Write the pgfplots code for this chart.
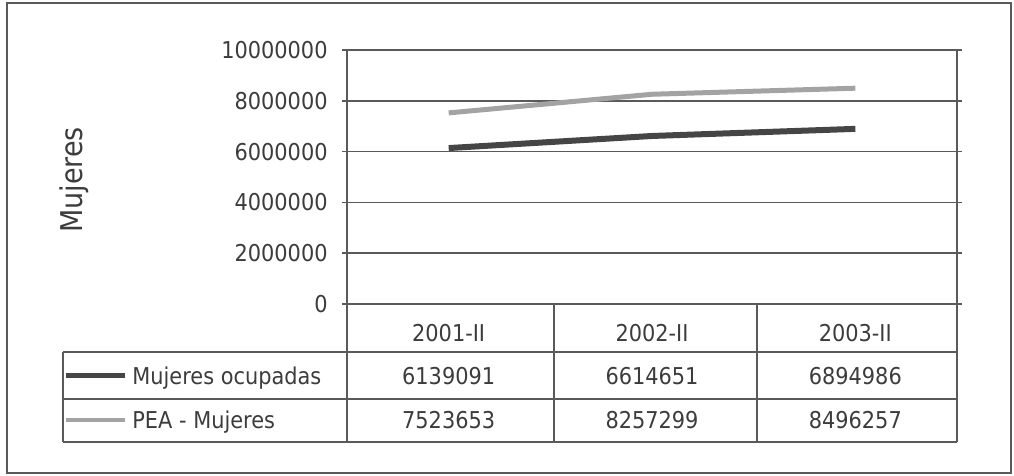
\documentclass[border=0pt]{standalone}
\usepackage{pgfplots}
\pgfplotsset{compat=1.18}
\usepackage{fontspec}
\setmainfont{DejaVu Sans}[FakeStretch=0.9]
\definecolor{txt}{HTML}{3C3C3C}
\definecolor{gridc}{HTML}{5A5A5A}
\definecolor{occ}{HTML}{454545}
\definecolor{pea}{HTML}{A3A3A3}
\newcommand{\fs}{\fontsize{11.6}{14}\selectfont}
\begin{document}
\begin{tikzpicture}[x=1pt,y=1pt]
\useasboundingbox (0,0) rectangle (507,238);
\draw[gridc, line width=0.75pt] (3.5,1.5) rectangle (505.5,236.5);
\begin{axis}[
  at={(173.5pt,86pt)}, anchor=south west,
  scale only axis, width=305pt, height=127pt,
  xmin=0.5, xmax=3.5, ymin=0, ymax=10000000,
  clip=false,
  xtick={1,2,3}, xticklabels={2001-II,2002-II,2003-II},
  xtick style={draw=none},
  xticklabel style={font=\fs, text=txt, anchor=center, yshift=-12pt},
  ytick={0,2000000,4000000,6000000,8000000,10000000},
  scaled y ticks=false,
  /pgf/number format/.cd, fixed, precision=0, 1000 sep={}, assume math mode=true,
  /pgfplots/.cd,
  yticklabel style={font=\fs, text=txt, anchor=east, inner sep=0pt, xshift=-7pt},
  ymajorgrids,
  grid style={gridc, line width=0.75pt},
  axis line style={gridc, line width=0.75pt},
  ytick style={gridc, line width=0.75pt},
  major tick length=5pt, tick align=center,
]
\addplot[occ, line width=3pt] coordinates {(1,6139091) (2,6614651) (3,6894986)};
\addplot[pea, line width=2.5pt] coordinates {(1,7523653) (2,8257299) (3,8496257)};
% table values
\node[font=\fs, text=txt, anchor=base] at (axis cs:1,0) [yshift=-40.2pt] {6139091};
\node[font=\fs, text=txt, anchor=base] at (axis cs:2,0) [yshift=-40.2pt] {6614651};
\node[font=\fs, text=txt, anchor=base] at (axis cs:3,0) [yshift=-40.2pt] {6894986};
\node[font=\fs, text=txt, anchor=base] at (axis cs:1,0) [yshift=-62.2pt] {7523653};
\node[font=\fs, text=txt, anchor=base] at (axis cs:2,0) [yshift=-62.2pt] {8257299};
\node[font=\fs, text=txt, anchor=base] at (axis cs:3,0) [yshift=-62.2pt] {8496257};
\end{axis}
% table grid
\begin{scope}[gridc, line width=0.75pt]
\draw (173.5,86) -- (173.5,17);
\draw (277,86) -- (277,17);
\draw (378.5,86) -- (378.5,17);
\draw (478.5,86) -- (478.5,17);
\draw (31.5,62) -- (31.5,17);
\draw (31.5,62) -- (478.5,62);
\draw (31.5,38.5) -- (478.5,38.5);
\draw (31.5,17) -- (478.5,17);
\end{scope}
% legend keys and names
\draw[occ, line width=2.5pt] (33,50) -- (62.5,50);
\draw[pea, line width=1.6pt] (33,28) -- (62.5,28);
\node[font=\fs, text=txt, anchor=base west, inner sep=0pt] at (66,45.8) {Mujeres ocupadas};
\node[font=\fs, text=txt, anchor=base west, inner sep=0pt] at (66,23.8) {PEA - Mujeres};
% y label
\node[font=\fontsize{15}{18}\selectfont, text=txt, rotate=90, anchor=base] at (41,148) {Mujeres};
\end{tikzpicture}
\end{document}
